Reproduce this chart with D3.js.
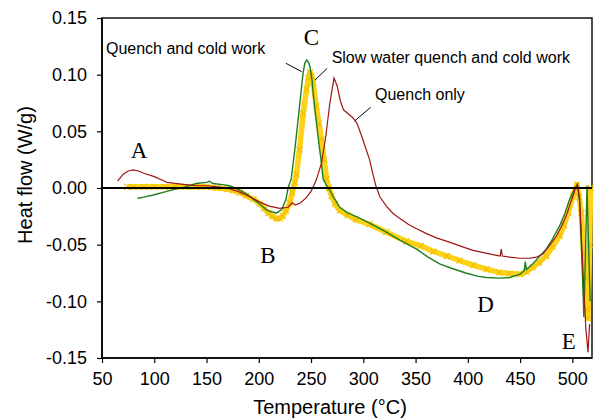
<!DOCTYPE html>
<html>
<head>
<meta charset="utf-8">
<script src="https://cdn.jsdelivr.net/npm/d3@7"></script>
<style>
  body { margin: 0; background: #fff; }
  svg { display: block; font-family: Arial, "Liberation Sans", sans-serif; }
</style>
</head>
<body>
<div id="chart"></div>
<script>
// --- Data: [temperature °C, heat flow W/g] ---
const quenchOnly = [
  [65, 0.006], [70, 0.012], [75, 0.015], [80, 0.016], [85, 0.015], [90, 0.013],
  [100, 0.010], [110, 0.006], [112, 0.005], [120, 0.004], [130, 0.003], [140, 0.002],
  [150, 0.002], [160, 0.001], [170, 0.000], [180, -0.003], [190, -0.007], [200, -0.012],
  [210, -0.016], [220, -0.018], [228, -0.017], [232, -0.013], [235, -0.015], [240, -0.013],
  [245, -0.009], [250, -0.003], [255, 0.007], [260, 0.022], [264, 0.045], [268, 0.075],
  [272, 0.097], [275, 0.090], [278, 0.077], [281, 0.069], [285, 0.066], [290, 0.062],
  [294, 0.057], [298, 0.047], [302, 0.036], [306, 0.025], [309, 0.013], [312, 0.002],
  [316, -0.008], [322, -0.016], [328, -0.022], [335, -0.027], [343, -0.032], [351, -0.036],
  [360, -0.040], [370, -0.044], [383, -0.048], [395, -0.052], [405, -0.055], [415, -0.057],
  [425, -0.059], [431, -0.060], [432, -0.054], [433, -0.060], [440, -0.061], [450, -0.062],
  [459, -0.062], [466, -0.061], [472, -0.058], [478, -0.051], [485, -0.042], [490, -0.033],
  [494, -0.025], [498, -0.014], [501, -0.006], [503, 0.000], [505, 0.003], [507, -0.010],
  [509, -0.050], [511, -0.090], [513, -0.125], [515, -0.145], [516.5, -0.120]
];

const quenchColdWork = [
  [84, -0.009], [90, -0.008], [100, -0.006], [112, -0.003], [120, -0.001], [130, 0.001],
  [140, 0.004], [150, 0.005], [153, 0.006], [156, 0.004], [165, 0.003], [172, 0.002],
  [180, -0.001], [188, -0.005], [195, -0.010], [202, -0.015], [207, -0.019], [212, -0.021],
  [217, -0.022], [222, -0.019], [226, -0.010], [228, 0.000], [231, 0.008], [234.5, 0.034],
  [237, 0.055], [239, 0.072], [241, 0.090], [242.5, 0.102], [244, 0.110], [245.7, 0.113],
  [247.5, 0.111], [249, 0.107], [251, 0.095], [252, 0.084], [254.5, 0.063], [257, 0.043],
  [259.5, 0.025], [261.6, 0.008], [265, 0.002], [268, -0.002], [272, -0.009], [277.5, -0.017],
  [285, -0.022], [295, -0.026], [306, -0.031], [322, -0.039], [335, -0.046], [343, -0.050],
  [351, -0.054], [362, -0.061], [373, -0.067], [385, -0.071], [398, -0.075], [410, -0.078],
  [418, -0.079], [430, -0.0795], [440, -0.079], [450, -0.076], [454, -0.073], [455, -0.065],
  [456, -0.072], [462, -0.067], [468, -0.061], [475, -0.054], [481, -0.045], [488, -0.033],
  [493, -0.022], [497.4, -0.010], [502, -0.001], [504.8, 0.003], [507, -0.013], [509.5, -0.072],
  [511, -0.114], [512.5, -0.060], [514, 0.002], [515.5, -0.050], [517, -0.100]
];

const slowWaterQuench = [
  [74, 0.001], [80, 0.001], [90, 0.001], [100, 0.001], [110, 0.001], [120, 0.001],
  [130, 0.001], [140, 0.001], [150, 0.001], [160, 0.000], [170, -0.001], [175, -0.002],
  [182, -0.004], [188, -0.007], [195, -0.010], [201, -0.014], [205, -0.018], [209, -0.022],
  [213, -0.025], [217, -0.027], [220, -0.027], [223, -0.025], [226, -0.020], [229.7, -0.013],
  [232, -0.004], [234.5, 0.005], [236, 0.012], [239, 0.034], [242.5, 0.066], [245.7, 0.087],
  [247.5, 0.097], [249, 0.102], [250.5, 0.099], [252, 0.093], [255, 0.072], [257.5, 0.057],
  [260, 0.043], [262.5, 0.025], [264.8, 0.008], [267, 0.000], [269.6, -0.007], [273, -0.014],
  [277.5, -0.020], [285, -0.024], [293, -0.028], [306, -0.032], [322, -0.039], [341, -0.047],
  [355, -0.051], [367, -0.056], [380, -0.060], [392, -0.064], [405, -0.068], [418, -0.0716],
  [430, -0.0745], [440, -0.0755], [450, -0.076], [456, -0.074], [462, -0.070], [468, -0.066],
  [475, -0.060], [481, -0.052], [488, -0.042], [492, -0.033], [496, -0.022], [500.6, -0.007],
  [504.4, 0.003], [506.5, -0.008], [508.6, -0.022], [510.8, -0.057], [512.7, -0.080],
  [514, -0.107], [515, -0.115], [516.5, -0.050], [517.5, 0.000]
];

const xTicks = [50, 100, 150, 200, 250, 300, 350, 400, 450, 500];
const yTicks = [-0.15, -0.10, -0.05, 0.00, 0.05, 0.10, 0.15];

// text labels placed in data units: [text, T, heat flow, anchor]
const curveLabels = [
  ["Quench and cold work", 53.8, 0.118, "start"],
  ["Slow water quench and cold work", 269.7, 0.110, "start"],
  ["Quench only", 311.2, 0.0776, "start"]
];
const peakLetters = [
  ["A", 85.4, 0.0265], ["B", 208.8, -0.0665], ["C", 250.4, 0.126],
  ["D", 416.9, -0.109], ["E", 496.7, -0.142]
];
// leader lines [T1, v1, T2, v2]
const leaders = [
  [226.0, 0.110, 241.0, 0.1027],
  [265.5, 0.1056, 253.8, 0.0953],
  [307.0, 0.0712, 292.0, 0.0594]
];

// --- Layout ---
const W = 596, H = 419;
const margin = {top: 18, right: 4, bottom: 61, left: 102};
const innerW = W - margin.left - margin.right;
const innerH = H - margin.top - margin.bottom;

const svg = d3.select("#chart").append("svg")
  .attr("width", W).attr("height", H);
const g = svg.append("g").attr("transform", `translate(${margin.left},${margin.top})`);

const x = d3.scaleLinear().domain([50, 518.8]).range([0, innerW]);
const y = d3.scaleLinear().domain([-0.15, 0.15]).range([innerH, 0]);

const line = d3.line().x(d => x(d[0])).y(d => y(d[1]));

// plot frame
g.append("rect")
  .attr("width", innerW).attr("height", innerH)
  .attr("fill", "none").attr("stroke", "#111").attr("stroke-width", 1.5);

// yellow band with x markers
g.append("path").datum(slowWaterQuench)
  .attr("d", line).attr("fill", "none")
  .attr("stroke", "#FFD21A").attr("stroke-width", 5.5)
  .attr("stroke-linejoin", "round");
g.selectAll(".xmark").data(slowWaterQuench).enter().append("path")
  .attr("class", "xmark")
  .attr("transform", d => `translate(${x(d[0])},${y(d[1])})`)
  .attr("d", "M-3,-3L3,3M-3,3L3,-3")
  .attr("stroke", "#F2C200").attr("stroke-width", 1.2);

g.append("path").datum(quenchColdWork)
  .attr("d", line).attr("fill", "none")
  .attr("stroke", "#1F7F1F").attr("stroke-width", 1.4);

g.append("path").datum(quenchOnly)
  .attr("d", line).attr("fill", "none")
  .attr("stroke", "#9E1515").attr("stroke-width", 1.2);

// zero line
g.append("line")
  .attr("x1", 0).attr("x2", innerW)
  .attr("y1", y(0)).attr("y2", y(0))
  .attr("stroke", "#000").attr("stroke-width", 1.3)
  .attr("shape-rendering", "crispEdges");

// axes
const xAxis = g.append("g").attr("transform", `translate(0,${innerH})`)
  .call(d3.axisBottom(x).tickValues(xTicks).tickSize(5).tickPadding(9).tickFormat(d3.format("d")));
const yAxis = g.append("g")
  .call(d3.axisLeft(y).tickValues(yTicks).tickSize(5).tickPadding(10).tickFormat(d => d.toFixed(2)));
[xAxis, yAxis].forEach(a => {
  a.select(".domain").attr("stroke", "#000").attr("stroke-width", 1.6);
  a.selectAll(".tick line").attr("stroke", "#000").attr("stroke-width", 1.2);
  a.selectAll(".tick text").attr("font-size", 18).attr("fill", "#000")
    .attr("font-family", "Arial, 'Liberation Sans', sans-serif");
});
xAxis.select(".domain").attr("d", `M0,0H${innerW}`);
yAxis.select(".domain").attr("d", `M0,${innerH}V0`);

// axis titles
svg.append("text")
  .attr("x", 330).attr("y", 414)
  .attr("text-anchor", "middle").attr("font-size", 20)
  .text("Temperature (°C)");
svg.append("text")
  .attr("transform", "translate(32,175) rotate(-90)")
  .attr("text-anchor", "middle").attr("font-size", 20)
  .text("Heat flow (W/g)");

// annotations
g.selectAll(".lbl").data(curveLabels).enter().append("text")
  .attr("x", d => x(d[1])).attr("y", d => y(d[2]))
  .attr("text-anchor", d => d[3]).attr("font-size", 16)
  .text(d => d[0]);
g.selectAll(".leader").data(leaders).enter().append("line")
  .attr("x1", d => x(d[0])).attr("y1", d => y(d[1]))
  .attr("x2", d => x(d[2])).attr("y2", d => y(d[3]))
  .attr("stroke", "#000").attr("stroke-width", 1);
g.selectAll(".peak").data(peakLetters).enter().append("text")
  .attr("x", d => x(d[1])).attr("y", d => y(d[2]))
  .attr("text-anchor", "middle").attr("font-size", 23)
  .attr("font-family", "'Times New Roman', 'Liberation Serif', serif")
  .text(d => d[0]);
</script>
</body>
</html>
